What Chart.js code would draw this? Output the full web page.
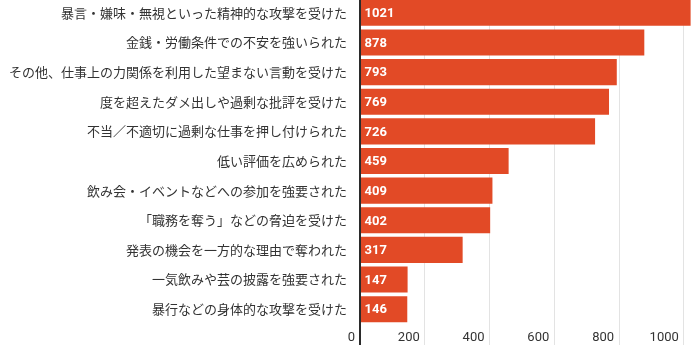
<!DOCTYPE html>
<html>
<head>
<meta charset="utf-8">
<script src="https://cdn.jsdelivr.net/npm/chart.js@4/dist/chart.umd.min.js"></script>
<style>
  html, body { margin: 0; padding: 0; background: #fff; overflow: hidden; }
  #wrap { position: absolute; left: 0; top: -2px; width: 700px; height: 347px; }
</style>
</head>
<body>
<div id="wrap"><canvas id="chart"></canvas></div>
<script>
// Reported experiences (number of respondents)
const categories = [
  '暴言・嫌味・無視といった精神的な攻撃を受けた',
  '金銭・労働条件での不安を強いられた',
  'その他、仕事上の力関係を利用した望まない言動を受けた',
  '度を超えたダメ出しや過剰な批評を受けた',
  '不当／不適切に過剰な仕事を押し付けられた',
  '低い評価を広められた',
  '飲み会・イベントなどへの参加を強要された',
  '「職務を奪う」などの脅迫を受けた',
  '発表の機会を一方的な理由で奪われた',
  '一気飲みや芸の披露を強要された',
  '暴行などの身体的な攻撃を受けた'
];
const counts = [1021, 878, 793, 769, 726, 459, 409, 402, 317, 147, 146];
const xTicks = [0, 200, 400, 600, 800, 1000];

const BAR_COLOR = '#e24a26';
const TEXT_COLOR = '#333333';
const GRID_COLOR = '#e3e3e3';
const NUM_FONT = 'Roboto, "Noto Sans", sans-serif';

// White count labels at the start of each bar
const valueLabels = {
  id: 'valueLabels',
  afterDatasetsDraw(chart) {
    const ctx = chart.ctx;
    const meta = chart.getDatasetMeta(0);
    ctx.save();
    ctx.fillStyle = '#ffffff';
    ctx.font = 'bold 13px ' + NUM_FONT;
    ctx.textAlign = 'left';
    ctx.textBaseline = 'middle';
    meta.data.forEach((bar, i) => {
      ctx.fillText(String(counts[i]), bar.base + 4, bar.y + 1);
    });
    ctx.restore();
  }
};

// Dark zero line on top of the bars, plus x tick labels set just left of their grid lines
const axisDecor = {
  id: 'axisDecor',
  afterDatasetsDraw(chart) {
    const ctx = chart.ctx;
    const xs = chart.scales.x;
    const x0 = xs.getPixelForValue(0);
    ctx.save();
    ctx.strokeStyle = '#2b2b2b';
    ctx.lineWidth = 2;
    ctx.beginPath();
    ctx.moveTo(x0, 0);
    ctx.lineTo(x0, chart.height);
    ctx.stroke();

    ctx.fillStyle = TEXT_COLOR;
    ctx.font = '13px ' + NUM_FONT;
    ctx.textAlign = 'right';
    ctx.textBaseline = 'middle';
    const y = chart.chartArea.bottom + 14;
    xTicks.forEach(v => {
      const px = xs.getPixelForValue(v);
      ctx.fillText(String(v), px - 5, y);
    });
    ctx.restore();
  }
};

new Chart(document.getElementById('chart'), {
  type: 'bar',
  data: {
    labels: categories,
    datasets: [{
      data: counts,
      backgroundColor: BAR_COLOR,
      borderWidth: 0,
      barPercentage: 0.88,
      categoryPercentage: 1.0
    }]
  },
  options: {
    indexAxis: 'y',
    responsive: true,
    maintainAspectRatio: false,
    animation: false,
    layout: { padding: 0 },
    plugins: {
      legend: { display: false },
      tooltip: { enabled: false }
    },
    scales: {
      x: {
        min: 0,
        max: 1050,
        afterBuildTicks(scale) {
          scale.ticks = xTicks.map(v => ({ value: v }));
        },
        afterFit(scale) {
          scale.height = 21;
          scale.paddingLeft = 0;
          scale.paddingRight = 0;
        },
        border: { display: false },
        grid: {
          color: GRID_COLOR,
          lineWidth: 1,
          drawTicks: true,
          tickLength: 21
        },
        ticks: { display: false }
      },
      y: {
        afterFit(scale) {
          scale.width = 360;
          scale.paddingTop = 0;
          scale.paddingBottom = 0;
        },
        border: { display: false },
        grid: { display: false, drawTicks: false },
        ticks: {
          color: TEXT_COLOR,
          padding: 13,
          font: { family: '"Noto Sans CJK JP", "Noto Sans", sans-serif', size: 13 }
        }
      }
    }
  },
  plugins: [valueLabels, axisDecor]
});
</script>
</body>
</html>
